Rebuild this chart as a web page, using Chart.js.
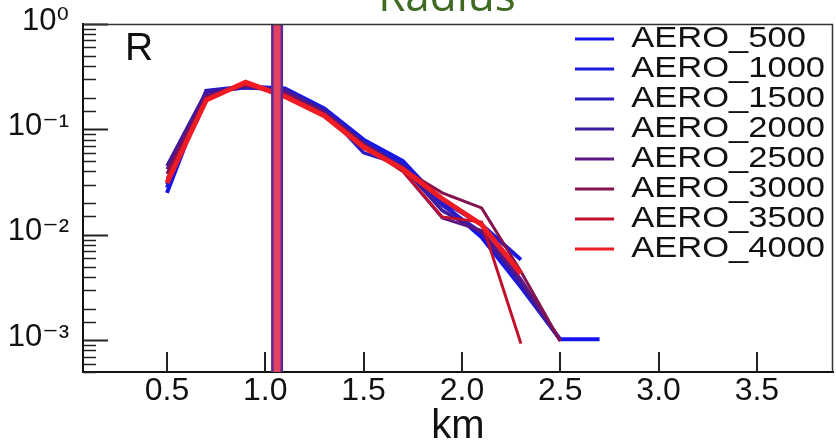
<!DOCTYPE html>
<html>
<head>
<meta charset="utf-8">
<script src="https://cdn.jsdelivr.net/npm/chart.js@4/dist/chart.umd.min.js"></script>
<style>
html,body{margin:0;padding:0;background:#fff;}
#wrap{width:836px;height:444px;position:relative;overflow:hidden;}
</style>
</head>
<body>
<div id="wrap"><canvas id="c" width="836" height="444"></canvas></div>
<script>
// ---- data ----
const radiusKm = [0.5, 0.7, 0.9, 1.1, 1.3, 1.5, 1.7, 1.9, 2.1, 2.3, 2.5, 2.7];
const seriesNames = ['AERO_500','AERO_1000','AERO_1500','AERO_2000','AERO_2500','AERO_3000','AERO_3500','AERO_4000'];
const aero500  = [0.025, 0.232, 0.255, 0.245, 0.158, 0.080, 0.050, 0.020, 0.0095, 0.0032, 0.00102, 0.00102];
const aero1000 = [0.028, 0.230, 0.250, 0.240, 0.155, 0.078, 0.048, 0.021, 0.0125, 0.0058, null, null];
const aero1500 = [0.030, 0.225, 0.250, 0.235, 0.150, 0.060, 0.046, 0.019, 0.0105, 0.0033, 0.0010, null];
const aero2000 = [0.045, 0.228, 0.255, 0.238, 0.150, 0.075, 0.044, 0.017, 0.0105, 0.0036, 0.0010, null];
const aero2500 = [0.042, 0.210, 0.260, 0.225, 0.145, 0.072, 0.040, 0.0145, 0.0110, 0.0038, 0.0010, null];
const aero3000 = [0.038, 0.200, 0.265, 0.215, 0.140, 0.072, 0.042, 0.025, 0.0180, 0.0045, 0.00098, null];
const aero3500 = [0.034, 0.195, 0.270, 0.210, 0.138, 0.070, 0.040, 0.0148, 0.0132, 0.00093, null, null];
const aero4000 = [0.031, 0.190, 0.280, 0.205, 0.135, 0.068, 0.042, 0.022, 0.0125, 0.0043, null, null];
const seriesValues = [aero500, aero1000, aero1500, aero2000, aero2500, aero3000, aero3500, aero4000];
const seriesColors = ['#1414f2','#1a1ade','#2a1cc0','#3e1a9c','#5e1680','#84124e','#c0102c','#f01c24'];
const seriesWidths = [4, 4, 3.5, 3.5, 3, 3, 3, 5];
const meanRadiusKm = 1.06;
const xRange = [0.073, 3.887];
const yRange = [0.0005, 1];
const xTickStep = 0.5;
const panelLetter = 'R';
const chartTitle = 'Radius';
const xAxisTitle = 'km';

const FONT = '"Liberation Sans", "DejaVu Sans", Arial, sans-serif';
const SUP = {'-':'\u207B','0':'\u2070','1':'\u00B9','2':'\u00B2','3':'\u00B3','4':'\u2074','5':'\u2075','6':'\u2076','7':'\u2077','8':'\u2078','9':'\u2079'};
function isDecade(v){ const l = Math.log10(v); return Math.abs(l - Math.round(l)) < 1e-6; }
function decadeLabel(v){ const e = String(Math.round(Math.log10(v))); return '10' + e.split('').map(c => SUP[c]).join(''); }

const datasets = seriesNames.map((name, i) => ({
  label: name,
  data: radiusKm.map((x, j) => ({x: x, y: seriesValues[i][j]})).filter(p => p.y !== null),
  borderColor: seriesColors[i],
  backgroundColor: seriesColors[i],
  borderWidth: seriesWidths[i],
  pointRadius: 0,
  tension: 0,
  fill: false,
  order: 10 - i
}));
// mean-radius marker band
datasets.push({
  label: 'band-outer',
  data: [{x: meanRadiusKm, y: yRange[0]}, {x: meanRadiusKm, y: yRange[1]}],
  borderColor: '#5b2a9a', borderWidth: 12, pointRadius: 0, fill: false, order: -1
});
datasets.push({
  label: 'band-inner',
  data: [{x: meanRadiusKm, y: yRange[0]}, {x: meanRadiusKm, y: yRange[1]}],
  borderColor: '#e2425f', borderWidth: 7, pointRadius: 0, fill: false, order: -2
});

const LEGEND_STRETCH = 1.15;

const decor = {
  id: 'decor',
  afterLayout(chart) {
    const lg = chart.legend;
    if (lg) {
      lg.left = 575; lg.top = 24;
      if (!lg._wrapped) {
        const orig = lg.draw;
        lg.draw = function () {
          const c = this.ctx;
          const x0 = this.left;
          c.save();
          c.translate(x0, 0);
          c.scale(LEGEND_STRETCH, 1);
          c.translate(-x0, 0);
          orig.apply(this, arguments);
          c.restore();
        };
        lg._wrapped = true;
      }
    }
    const tb = chart.titleBlock;
    if (tb) { tb.left = 61; tb.right = 833; }
  },
  afterDraw(chart) {
    const {ctx, chartArea: a, scales: {x, y}} = chart;
    ctx.save();
    ctx.strokeStyle = '#222';
    y.ticks.forEach(t => {
      const py = Math.round(y.getPixelForValue(t.value)) + 0.5;
      const major = isDecade(t.value);
      ctx.lineWidth = major ? 2 : 1.5;
      ctx.beginPath(); ctx.moveTo(a.left, py); ctx.lineTo(a.left + (major ? 25 : 13), py); ctx.stroke();
    });
    x.ticks.forEach(t => {
      const px = Math.round(x.getPixelForValue(t.value));
      ctx.lineWidth = 2;
      ctx.beginPath(); ctx.moveTo(px, a.bottom); ctx.lineTo(px, a.bottom - 20); ctx.stroke();
    });
    ctx.lineWidth = 1.5; ctx.strokeStyle = '#333';
    ctx.beginPath(); ctx.moveTo(a.left, a.top + 0.5); ctx.lineTo(a.right - 0.5, a.top + 0.5); ctx.lineTo(a.right - 0.5, a.bottom); ctx.stroke();
    ctx.fillStyle = '#111';
    ctx.font = '39px ' + FONT;
    ctx.textBaseline = 'alphabetic';
    ctx.textAlign = 'left';
    ctx.fillText(panelLetter, a.left + 42, a.top + 36);
    ctx.restore();
  }
};

new Chart(document.getElementById('c'), {
  type: 'line',
  data: { datasets: datasets },
  options: {
    responsive: false,
    animation: false,
    devicePixelRatio: 1,
    layout: { padding: { left: 0, right: 3, top: 0, bottom: 0 } },
    scales: {
      x: {
        type: 'linear',
        min: xRange[0], max: xRange[1],
        grid: { drawOnChartArea: false, drawTicks: false },
        border: { display: true, color: '#111', width: 2 },
        ticks: {
          stepSize: xTickStep, includeBounds: false, autoSkip: false,
          padding: 0, color: '#111', maxRotation: 0,
          font: { family: FONT, size: 32 },
          callback: v => Number(v).toFixed(1)
        },
        title: { display: true, text: xAxisTitle, color: '#111', padding: 0,
                 font: { family: FONT, size: 40, lineHeight: 0.85 } },
        afterFit: s => { s.height = 72; s.paddingLeft = 0; s.paddingRight = 0; }
      },
      y: {
        type: 'logarithmic',
        min: yRange[0], max: yRange[1],
        grid: { drawOnChartArea: false, drawTicks: false },
        border: { display: true, color: '#111', width: 2 },
        ticks: {
          autoSkip: false, padding: 14, labelOffset: -3, color: '#111',
          font: { family: FONT, size: 31 },
          callback: v => isDecade(v) ? decadeLabel(v) : ''
        },
        afterFit: s => { s.width = 83; s.paddingTop = 0; s.paddingBottom = 0; }
      }
    },
    plugins: {
      title: {
        display: true, text: chartTitle, color: '#3f6a22', fullSize: false,
        font: { family: '"Open Sans", "Noto Sans", sans-serif', size: 44, weight: 'normal', lineHeight: 1 },
        padding: { top: -24, bottom: 4 }
      },
      legend: {
        display: true,
        position: 'chartArea',
        align: 'start',
        fullSize: false,
        labels: {
          usePointStyle: true, pointStyle: 'line', pointStyleWidth: 34,
          padding: 0, color: '#111',
          font: { family: FONT, size: 30 },
          filter: item => item.datasetIndex < seriesNames.length,
          sort: (a, b) => a.datasetIndex - b.datasetIndex,
          generateLabels: chart => Chart.defaults.plugins.legend.labels.generateLabels(chart).map(l => Object.assign(l, {lineWidth: 3}))
        }
      },
      tooltip: { enabled: false }
    }
  },
  plugins: [decor]
});
</script>
</body>
</html>
